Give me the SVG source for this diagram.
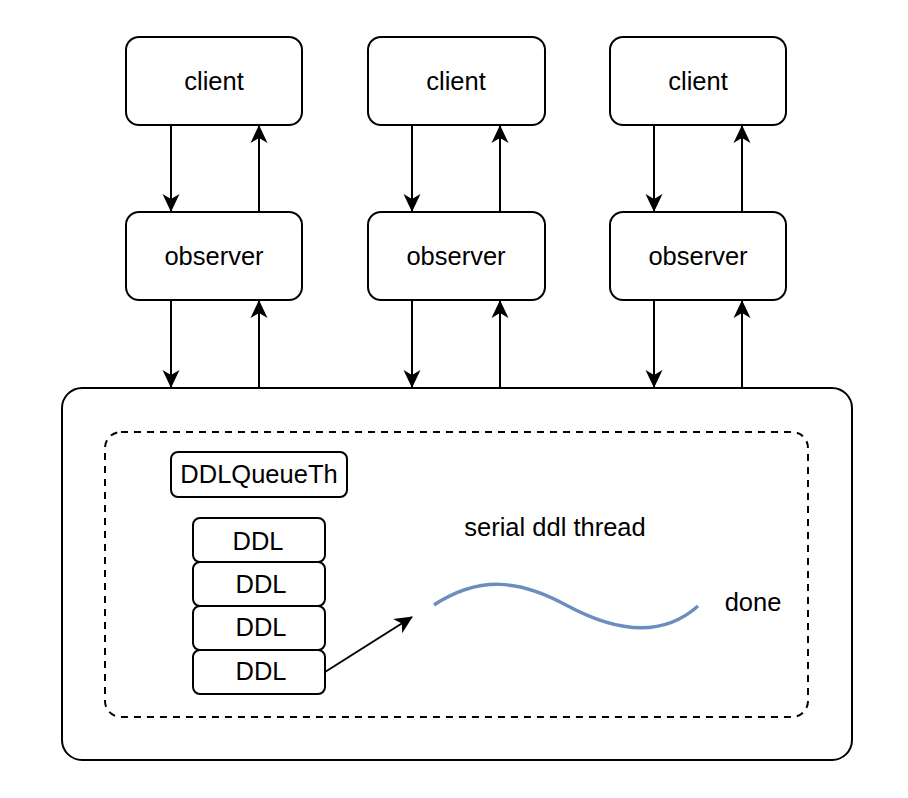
<svg xmlns="http://www.w3.org/2000/svg" width="908" height="798" viewBox="0 0 908 798">
<style>
.box{fill:#fff;stroke:#000;stroke-width:2}
.t{font-family:"Liberation Sans",Arial,Helvetica,sans-serif;font-size:25.5px;fill:#000;text-anchor:middle}
.c{fill:none;stroke:#000;stroke-width:2}
</style>
<defs>
<marker id="ah" viewBox="0 0 18 18" refX="17" refY="9" markerWidth="18" markerHeight="18" markerUnits="userSpaceOnUse" orient="auto">
<path d="M0,0.5 L18,9 L0,17.5 L5,9 Z" fill="#000"/>
</marker>
</defs>
<rect width="908" height="798" fill="#fff"/>
<g id="container"><rect class="box" x="62" y="388" width="790" height="372" rx="20"/></g>
<g id="thread-area"><rect x="105" y="432" width="703" height="285" rx="16" fill="none" stroke="#000" stroke-width="2" stroke-dasharray="7,6"/></g>
<g id="client1"><rect class="box" x="126" y="37" width="176" height="88" rx="13"/><text class="t" x="214" y="90">client</text></g>
<g id="client2"><rect class="box" x="368" y="37" width="177" height="88" rx="13"/><text class="t" x="456" y="90">client</text></g>
<g id="client3"><rect class="box" x="610" y="37" width="176" height="88" rx="13"/><text class="t" x="698" y="90">client</text></g>
<g id="observer1"><rect class="box" x="126" y="212" width="176" height="88" rx="13"/><text class="t" x="214" y="265">observer</text></g>
<g id="observer2"><rect class="box" x="368" y="212" width="177" height="88" rx="13"/><text class="t" x="456" y="265">observer</text></g>
<g id="observer3"><rect class="box" x="610" y="212" width="176" height="88" rx="13"/><text class="t" x="698" y="265">observer</text></g>
<g id="ddlqueueth"><rect class="box" x="171" y="452" width="176" height="45" rx="7"/><text class="t" x="259" y="483">DDLQueueTh</text></g>
<g id="ddl1"><rect class="box" x="193" y="518" width="132" height="44" rx="7"/><text class="t" x="258" y="550">DDL</text></g>
<g id="ddl2"><rect class="box" x="193" y="562" width="132" height="44" rx="7"/><text class="t" x="261" y="593">DDL</text></g>
<g id="ddl3"><rect class="box" x="193" y="606" width="132" height="44" rx="7"/><text class="t" x="261" y="636">DDL</text></g>
<g id="ddl4"><rect class="box" x="193" y="650" width="132" height="44" rx="7"/><text class="t" x="261" y="680">DDL</text></g>
<g id="thread-label"><text class="t" x="555" y="536">serial ddl thread</text></g>
<g id="wave"><path d="M434,605 C480,575 520,580 566,605 S660,640 698,606" fill="none" stroke="#6c8ebf" stroke-width="3.5"/></g>
<g id="done"><text class="t" x="753" y="611">done</text></g>
<g id="connectors">
<line class="c" x1="171" y1="125" x2="171" y2="211" marker-end="url(#ah)"/>
<line class="c" x1="259" y1="212" x2="259" y2="126" marker-end="url(#ah)"/>
<line class="c" x1="412" y1="125" x2="412" y2="211" marker-end="url(#ah)"/>
<line class="c" x1="500" y1="212" x2="500" y2="126" marker-end="url(#ah)"/>
<line class="c" x1="654" y1="125" x2="654" y2="211" marker-end="url(#ah)"/>
<line class="c" x1="742" y1="212" x2="742" y2="126" marker-end="url(#ah)"/>
<line class="c" x1="171" y1="300" x2="171" y2="387" marker-end="url(#ah)"/>
<line class="c" x1="259" y1="388" x2="259" y2="301" marker-end="url(#ah)"/>
<line class="c" x1="412" y1="300" x2="412" y2="387" marker-end="url(#ah)"/>
<line class="c" x1="500" y1="388" x2="500" y2="301" marker-end="url(#ah)"/>
<line class="c" x1="654" y1="300" x2="654" y2="387" marker-end="url(#ah)"/>
<line class="c" x1="742" y1="388" x2="742" y2="301" marker-end="url(#ah)"/>
<line class="c" x1="325" y1="672" x2="412" y2="617" marker-end="url(#ah)"/>
</g>
</svg>
